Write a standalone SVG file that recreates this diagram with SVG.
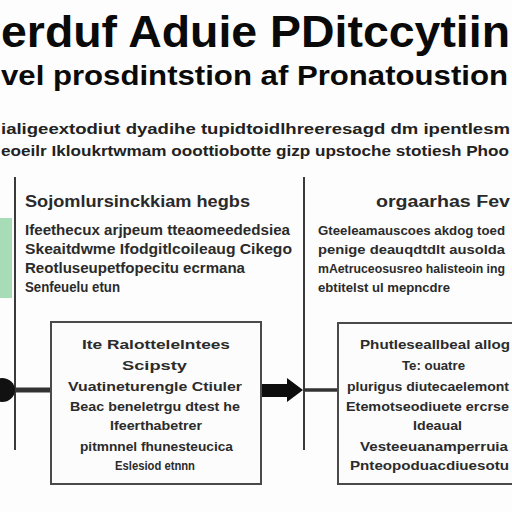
<svg xmlns="http://www.w3.org/2000/svg" width="512" height="512" viewBox="0 0 512 512">
<style>
text{font-family:"Liberation Sans",Arial,sans-serif;font-weight:bold;fill:#1e1e1e}
.t1{font-size:44px;fill:#0a0a0a}
.t2{font-size:28px;fill:#0a0a0a}
.p{font-size:14px;fill:#222}
.h{font-size:16px;fill:#2a2a2a}
.b{font-size:14px;fill:#2b2b2b}
.br{font-size:12.5px;fill:#2b2b2b}
.bx{font-size:13.5px;fill:#2b2b2b}
.box{fill:#fcfcfc;stroke:#4a4a4a;stroke-width:2}
.vl{stroke:#3a3a3a;stroke-width:2;fill:none}
.cn{stroke:#333;fill:none}
</style>
<rect width="512" height="512" fill="#fdfdfd"/>
<g id="title">
<text class="t1" x="1" y="47" textLength="509" lengthAdjust="spacingAndGlyphs">erduf Aduie PDitccytiin</text>
<text class="t2" x="1" y="85" textLength="507" lengthAdjust="spacingAndGlyphs">vel prosdintstion af Pronatoustion</text>
</g>
<g id="intro">
<text class="p" x="1" y="134" textLength="509" lengthAdjust="spacingAndGlyphs">ialigeextodiut dyadihe tupidtoidlhreeresagd dm ipentlesm</text>
<text class="p" x="1" y="156" textLength="508" lengthAdjust="spacingAndGlyphs">eoeilr Ikloukrtwmam ooottiobotte gizp upstoche stotiesh Phoo</text>
</g>
<rect x="0" y="218" width="12" height="80" fill="#a8dcb6"/>
<g id="connectors">
<line class="vl" x1="15" y1="177" x2="15" y2="450"/>
<line class="vl" x1="304" y1="177" x2="304" y2="450" stroke-width="2.5"/>
<ellipse cx="2" cy="390" rx="13" ry="12" fill="#111"/>
<line class="cn" x1="15" y1="390" x2="51" y2="390" stroke-width="5"/>
<path d="M259 384 H287 V378 L303 390 L287 402 V397 H259 Z" fill="#0d0d0d"/>
<line class="cn" x1="304" y1="390" x2="338" y2="390" stroke-width="3.5"/>
</g>
<g id="left-section">
<text class="h" x="25" y="207" textLength="225" lengthAdjust="spacingAndGlyphs">Sojomlursinckkiam hegbs</text>
<text class="b" x="25" y="235" textLength="265" lengthAdjust="spacingAndGlyphs">Ifeethecux arjpeum tteaomeededsiea</text>
<text class="b" x="25" y="254" textLength="267" lengthAdjust="spacingAndGlyphs">Skeaitdwme Ifodgitlcoileaug Cikego</text>
<text class="b" x="25" y="273" textLength="220" lengthAdjust="spacingAndGlyphs">Reotluseupetfopecitu ecrmana</text>
<text class="b" x="25" y="292" textLength="95" lengthAdjust="spacingAndGlyphs">Senfeuelu etun</text>
</g>
<g id="right-section">
<text class="h" x="376" y="207" textLength="134" lengthAdjust="spacingAndGlyphs">orgaarhas Fev</text>
<text class="br" x="318" y="235" textLength="187" lengthAdjust="spacingAndGlyphs">Gteeleamauscoes akdog toed</text>
<text class="br" x="318" y="254" textLength="187" lengthAdjust="spacingAndGlyphs">penige deauqdtdlt ausolda</text>
<text class="br" x="318" y="273" textLength="187" lengthAdjust="spacingAndGlyphs">mAetruceosusreo halisteoin ing</text>
<text class="br" x="318" y="292" textLength="132" lengthAdjust="spacingAndGlyphs">ebtitelst ul mepncdre</text>
</g>
<g id="box-left">
<rect class="box" x="51" y="322" width="210" height="162"/>
<text class="bx" x="82" y="349" textLength="148" lengthAdjust="spacingAndGlyphs">Ite Ralottelelntees</text>
<text class="bx" x="122" y="370" textLength="65" lengthAdjust="spacingAndGlyphs">Scipsty</text>
<text class="bx" x="68" y="391" textLength="174" lengthAdjust="spacingAndGlyphs">Vuatineturengle Ctiuler</text>
<text class="bx" x="70" y="411" textLength="170" lengthAdjust="spacingAndGlyphs">Beac beneletrgu dtest he</text>
<text class="bx" x="110" y="430" textLength="92" lengthAdjust="spacingAndGlyphs">Ifeerthabetrer</text>
<text class="bx" x="80" y="451" textLength="153" lengthAdjust="spacingAndGlyphs">pitmnnel fhunesteucica</text>
<text class="bx" x="115" y="470" textLength="80" lengthAdjust="spacingAndGlyphs">Eslesiod etnnn</text>
</g>
<g id="box-right">
<rect class="box" x="338" y="323" width="190" height="161"/>
<text class="bx" x="360" y="349" textLength="150" lengthAdjust="spacingAndGlyphs">Phutleseallbeal allog</text>
<text class="bx" x="402" y="370" textLength="63" lengthAdjust="spacingAndGlyphs">Te: ouatre</text>
<text class="bx" x="347" y="391" textLength="162" lengthAdjust="spacingAndGlyphs">plurigus diutecaelemont</text>
<text class="bx" x="346" y="411" textLength="163" lengthAdjust="spacingAndGlyphs">Etemotseodiuete ercrse</text>
<text class="bx" x="413" y="430" textLength="49" lengthAdjust="spacingAndGlyphs">Ideaual</text>
<text class="bx" x="360" y="451" textLength="148" lengthAdjust="spacingAndGlyphs">Vesteeuanamperruia</text>
<text class="bx" x="350" y="470" textLength="159" lengthAdjust="spacingAndGlyphs">Pnteopoduacdiuesotu</text>
</g>
</svg>
